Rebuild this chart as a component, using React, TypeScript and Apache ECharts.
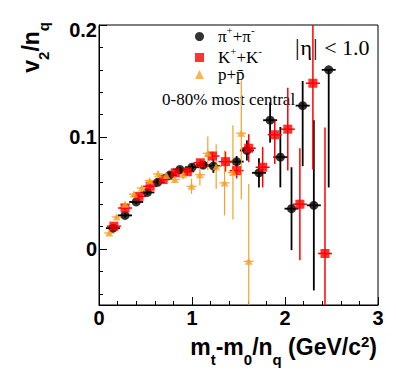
import React, { useEffect, useRef } from "react";
import * as echarts from "echarts";

// ---- data ----
const piX = [0.15, 0.28, 0.40, 0.52, 0.63, 0.76, 0.87, 1.00, 1.12, 1.23, 1.48, 1.59, 1.72, 1.84, 1.95, 2.07, 2.19, 2.31, 2.47];
const piY = [0.0186, 0.030, 0.042, 0.0505, 0.0595, 0.066, 0.071, 0.073, 0.075, 0.074, 0.078, 0.088, 0.068, 0.115, 0.082, 0.036, 0.128, 0.039, 0.160];
const piErrUp = [0.002, 0.002, 0.002, 0.002, 0.002, 0.002, 0.002, 0.003, 0.003, 0.006, 0.005, 0.009, 0.013, 0.016, 0.027, 0.037, 0.022, 0.076, 0.0];
const piErrDn = [0.002, 0.002, 0.002, 0.002, 0.002, 0.002, 0.002, 0.003, 0.003, 0.006, 0.005, 0.009, 0.013, 0.020, 0.027, 0.037, 0.054, 0.076, 0.105];

const kX = [0.16, 0.28, 0.43, 0.55, 0.69, 0.82, 0.95, 1.09, 1.22, 1.36, 1.48, 1.61, 1.76, 1.89, 2.03, 2.16, 2.30, 2.43];
const kY = [0.0204, 0.0366, 0.047, 0.056, 0.062, 0.068, 0.069, 0.077, 0.083, 0.078, 0.070, 0.090, 0.073, 0.102, 0.107, 0.040, 0.148, -0.004];
const kErrUp = [0.002, 0.002, 0.002, 0.002, 0.002, 0.002, 0.003, 0.003, 0.004, 0.009, 0.007, 0.0125, 0.018, 0.013, 0.037, 0.050, 0.077, 0.1125];
const kErrDn = [0.002, 0.002, 0.002, 0.002, 0.002, 0.002, 0.003, 0.003, 0.004, 0.009, 0.007, 0.0125, 0.018, 0.026, 0.037, 0.050, 0.077, 0.1125];

const pX = [0.11, 0.19, 0.28, 0.375, 0.46, 0.545, 0.635, 0.725, 0.815, 0.905, 0.995, 1.085, 1.17, 1.26, 1.35, 1.44, 1.53, 1.61];
const pY = [0.0143, 0.0286, 0.040, 0.049, 0.0545, 0.061, 0.067, 0.0657, 0.062, 0.0663, 0.056, 0.0663, 0.0855, 0.0735, 0.059, 0.0684, 0.1034, -0.011];
const pErrUp = [0.002, 0.002, 0.002, 0.002, 0.002, 0.002, 0.003, 0.003, 0.003, 0.004, 0.0067, 0.0097, 0.015, 0.020, 0.029, 0.042, 0.047, 0.069];
const pErrDn = [0.002, 0.002, 0.002, 0.002, 0.002, 0.002, 0.003, 0.003, 0.003, 0.004, 0.0067, 0.0097, 0.015, 0.020, 0.029, 0.042, 0.059, 0.069];

const xTicks = [0, 1, 2, 3];
const yMajorTicks = [0, 0.1, 0.2];
const yMinorTicks = [-0.04, -0.02, 0.02, 0.04, 0.06, 0.08, 0.12, 0.14, 0.16, 0.18];

const seriesNames = ["pi", "K", "p"];

const W = 396;
const H = 372;

const SERIF = "Liberation Serif";
const SANS = "Liberation Sans";

function toRows(x: number[], y: number[], up: number[], dn: number[]) {
  return x.map((v, i) => [v, y[i], up[i], dn[i]]);
}

function errSeries(name: string, color: string, lw: number, half: number, rows: number[][]) {
  return {
    type: "custom",
    name,
    clip: true,
    silent: true,
    xAxisIndex: 0,
    yAxisIndex: 0,
    data: rows,
    encode: { x: 0, y: 1 },
    renderItem: (params: any, api: any) => {
      const x = api.value(0);
      const y = api.value(1);
      const up = api.value(2);
      const dn = api.value(3);
      const c = api.coord([x, y]);
      const t = api.coord([x, y + up]);
      const b = api.coord([x, y - dn]);
      const style = { stroke: color, lineWidth: lw, fill: "none" };
      return {
        type: "group",
        children: [
          { type: "line", shape: { x1: c[0], y1: t[1], x2: c[0], y2: b[1] }, style },
          { type: "line", shape: { x1: c[0] - half, y1: c[1], x2: c[0] + half, y2: c[1] }, style },
        ],
      };
    },
  };
}

export default function App() {
  const ref = useRef<HTMLDivElement>(null);

  useEffect(() => {
    const chart = echarts.init(ref.current!, null, { renderer: "svg" });

    const titleRich = {
      m: { fontFamily: SANS, fontWeight: "bold", fontSize: 23, lineHeight: 28, color: "#000" },
      d: { fontFamily: SANS, fontWeight: "bold", fontSize: 15, height: 3, verticalAlign: "bottom", color: "#000" },
      u: { fontFamily: SANS, fontWeight: "bold", fontSize: 15, height: 16, verticalAlign: "top", color: "#000" },
    };

    const legendRich = {
      g: { width: 9 },
      m: { fontFamily: SERIF, fontSize: 17, lineHeight: 17, color: "#000" },
      s: { fontFamily: SERIF, fontSize: 11, height: 3, verticalAlign: "top", color: "#000" },
    };

    const etaRich = {
      b: { fontFamily: SERIF, fontSize: 23, lineHeight: 26, color: "#000", padding: [0, 1, 0, 1] },
      e: { fontFamily: SERIF, fontSize: 22, lineHeight: 26, color: "#000" },
      t: { fontFamily: SERIF, fontSize: 22, lineHeight: 26, color: "#000" },
    };

    const option: any = {
      animation: false,
      backgroundColor: "#fff",
      grid: {
        left: 99,
        top: 25,
        right: 18,
        bottom: 67,
        show: true,
        borderColor: "#000",
        borderWidth: 1,
        backgroundColor: "transparent",
      },
      legend: {
        orient: "vertical",
        left: 195,
        top: 24,
        padding: 0,
        itemGap: 0,
        itemWidth: 9,
        itemHeight: 9,
        selectedMode: false,
        data: [
          { name: "pi", icon: "circle" },
          { name: "K", icon: "rect" },
          { name: "p", icon: "triangle" },
        ],
        formatter: (name: string) => {
          if (name === "pi") return "{g| }{m|π}{s|+}{m|+π}{s|-}";
          if (name === "K") return "{g| }{m|K}{s|+}{m|+K}{s|-}";
          return "{g| }{m|p+p\u0304}";
        },
        textStyle: { rich: legendRich },
      },
      xAxis: {
        type: "value",
        min: 0,
        max: 3,
        interval: 1,
        axisLine: { show: true, onZero: false, lineStyle: { color: "#000", width: 1 } },
        axisTick: { show: true, inside: true, length: 8, lineStyle: { color: "#000" } },
        minorTick: { show: true, splitNumber: 5, length: 4, lineStyle: { color: "#000" } },
        axisLabel: {
          customValues: xTicks,
          fontFamily: SANS,
          fontWeight: "bold",
          fontSize: 20,
          color: "#000",
          margin: 3,
        },
        splitLine: { show: false },
        minorSplitLine: { show: false },
      },
      yAxis: [
        {
          type: "value",
          min: -0.05,
          max: 0.2,
          position: "left",
          axisLine: { show: true, onZero: false, lineStyle: { color: "#000", width: 1 } },
          axisTick: { show: true, inside: true, length: 8, customValues: yMajorTicks, lineStyle: { color: "#000" } },
          axisLabel: {
            customValues: yMajorTicks,
            formatter: (v: number) => {
              if (Math.abs(v) < 1e-9) return "{n|0}";
              const s = String(Math.round(v * 10) / 10);
              return v > 0.15 ? "{top|" + s + "}" : "{n|" + s + "}";
            },
            rich: {
              n: { fontFamily: SANS, fontWeight: "bold", fontSize: 20, color: "#000" },
              top: { fontFamily: SANS, fontWeight: "bold", fontSize: 20, color: "#000", padding: [10, 0, 0, 0] },
            },
            margin: 2,
          },
          splitLine: { show: false },
        },
        {
          type: "value",
          min: -0.05,
          max: 0.2,
          position: "left",
          offset: 0,
          axisLine: { show: false },
          axisTick: { show: true, inside: true, length: 4, customValues: yMinorTicks, lineStyle: { color: "#000" } },
          axisLabel: { show: false },
          splitLine: { show: false },
        },
      ],
      series: [
        errSeries("pi-err", "#000000", 1.8, 7, toRows(piX, piY, piErrUp, piErrDn)),
        {
          type: "scatter",
          name: seriesNames[0],
          symbol: "circle",
          symbolSize: 9,
          itemStyle: { color: "#000000" },
          data: piX.map((v, i) => [v, piY[i]]),
        },
        errSeries("K-err", "#ff0000", 1.5, 7, toRows(kX, kY, kErrUp, kErrDn)),
        {
          type: "scatter",
          name: seriesNames[1],
          symbol: "rect",
          symbolSize: 9,
          itemStyle: { color: "#ff0000" },
          data: kX.map((v, i) => [v, kY[i]]),
        },
        errSeries("p-err", "#f7a128", 1.2, 5, toRows(pX, pY, pErrUp, pErrDn)),
        {
          type: "scatter",
          name: seriesNames[2],
          symbol: "triangle",
          symbolSize: [8, 7],
          itemStyle: { color: "#f7a128" },
          data: pX.map((v, i) => [v, pY[i]]),
        },
      ],
      graphic: [
        {
          type: "text",
          x: 162,
          y: 99,
          style: {
            text: "0-80% most central",
            fontFamily: SERIF,
            fontSize: 17,
            fill: "#000",
            align: "left",
            verticalAlign: "middle",
          },
        },
        {
          type: "text",
          x: 294,
          y: 47,
          style: {
            text: "{b||}{e|η}{b||}{t| < 1.0}",
            rich: etaRich,
            align: "left",
            verticalAlign: "middle",
          },
        },
        {
          type: "text",
          x: 377,
          y: 333,
          style: {
            text: "{m|m}{d|t}{m|-m}{d|0}{m|/n}{d|q}{m| (GeV/c}{u|2}{m|)}",
            rich: titleRich,
            align: "right",
            verticalAlign: "top",
          },
        },
        {
          type: "text",
          x: 31,
          y: 22,
          rotation: Math.PI / 2,
          style: {
            text: "{m|v}{d|2}{m|/n}{d|q}",
            rich: titleRich,
            align: "right",
            verticalAlign: "middle",
          },
        },
      ],
    };

    chart.setOption(option);
    return () => chart.dispose();
  }, []);

  return (
    <div
      ref={ref}
      style={{ position: "fixed", left: 0, top: 0, width: W, height: H, background: "#fff" }}
    />
  );
}
